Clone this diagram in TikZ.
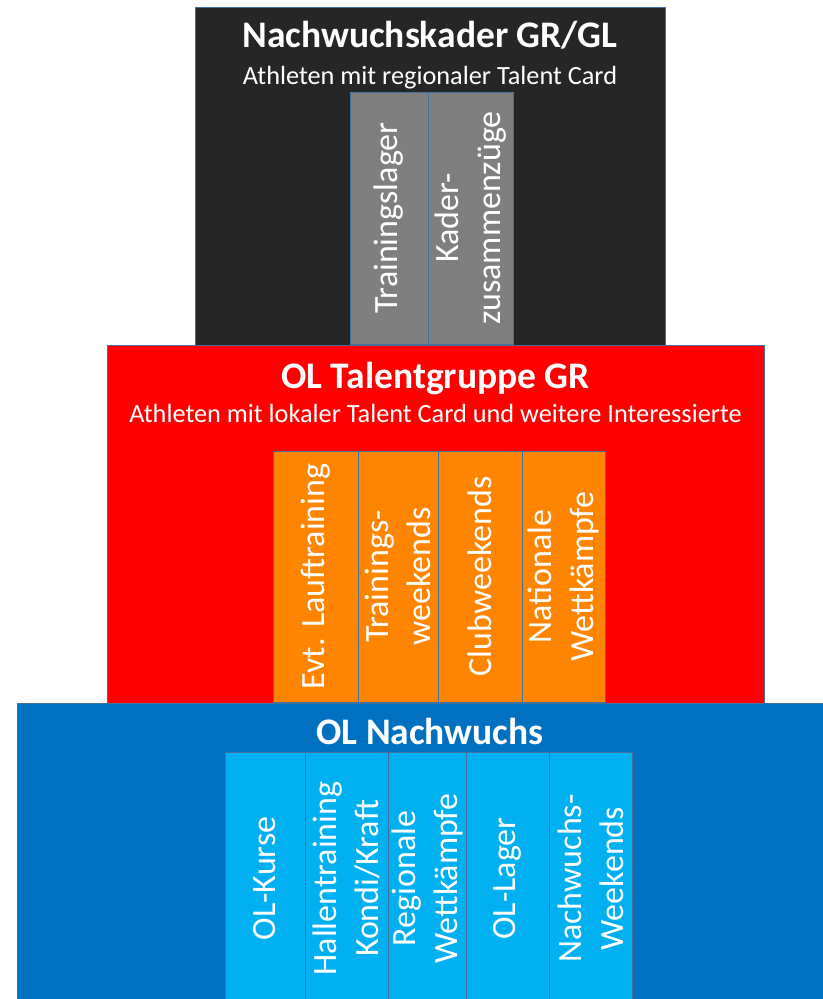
\documentclass[tikz,border=0pt]{standalone}
\usepackage{fontspec}
\setmainfont{Carlito}
\usetikzlibrary{positioning}
\definecolor{kaderblack}{HTML}{262626}
\definecolor{kadergray}{HTML}{7F7F7F}
\definecolor{talentred}{HTML}{FF0000}
\definecolor{talentorange}{HTML}{FF8500}
\definecolor{nwblue}{HTML}{0070C0}
\definecolor{nwlightblue}{HTML}{00B0F0}
\definecolor{edge}{HTML}{41719C}
\tikzset{
  level/.style={draw=edge,line width=0.9bp},
  headline/.style={text=white,font=\fontsize{37.5bp}{44bp}\selectfont\bfseries,anchor=base,inner sep=0pt},
  subline/.style={text=white,font=\fontsize{26.3bp}{31bp}\selectfont,anchor=base,inner sep=0pt},
  cell/.style={draw=edge,line width=0.9bp,text=white,align=center,rotate=90,inner sep=0pt,
    font=\fontsize{34bp}{42bp}\selectfont}
}
\begin{document}
\begin{tikzpicture}[x=1bp,y=-1bp]
		\useasboundingbox (0,0) rectangle (823,999);
		\fill[white] (0,0) rectangle (823,999);
		\draw [level,fill=kaderblack] (195,7) rectangle (665,345);
		\node (kadertitle) at (430,47) [headline] {Nachwuchskader GR/GL};
		\node (kadersub) at (430,84) [subline] {Athleten mit regionaler Talent Card};
		\foreach \xa/\xb/\txt [count=\i] in {350/428/Trainingslager, 428/513/{Kader-\\zusammenzüge}}
			\node (kader\i) at ({(\xa+\xb)/2},218) [cell,fill=kadergray,minimum width=252bp,minimum height={(\xb-\xa)*1bp}] {\txt};
		\draw [level,fill=talentred] (107,345) rectangle (764,703);
		\node (talenttitle) at (435.5,388) [headline] {OL Talentgruppe GR};
		\node (talentsub) at (435.5,422) [subline] {Athleten mit lokaler Talent Card und weitere Interessierte};
		\foreach \xa/\xb/\txt [count=\i] in {273/358/{Evt. Lauftraining}, 358/438/{Trainings-\\weekends}, 438/522/Clubweekends, 522/605/{Nationale\\Wettkämpfe}}
			\node (talent\i) at ({(\xa+\xb)/2},576.5) [cell,fill=talentorange,minimum width=251bp,minimum height={(\xb-\xa)*1bp}] {\txt};
		\draw [level,fill=nwblue] (17,703) rectangle (830,1005);
		\node (nwtitle) at (430,744) [headline] {OL Nachwuchs};
		\foreach \xa/\xb/\txt [count=\i] in {225/305/OL-Kurse, 305/388/{Hallentraining\\Kondi/Kraft}, 388/466/{Regionale\\Wettkämpfe}, 466/549/OL-Lager, 549/632/{Nachwuchs-\\Weekends}}
			\node (nw\i) at ({(\xa+\xb)/2},878.5) [cell,fill=nwlightblue,minimum width=253bp,minimum height={(\xb-\xa)*1bp}] {\txt};
    \end{tikzpicture}
\end{document}
